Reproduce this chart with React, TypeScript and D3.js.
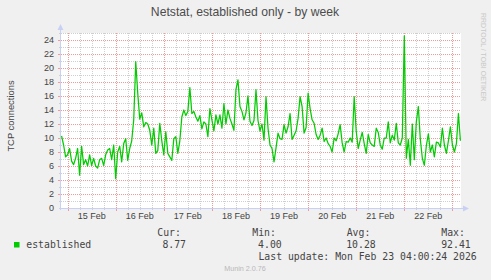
import React from "react";
import * as d3 from "d3";

const TITLE = "Netstat, established only - by week";
const Y_TITLE = "TCP connections";
const SERIES_NAME = "established";
const START = new Date(2026, 1, 14, 21, 0); // first hourly sample

// hourly values, by day
const feb14 = [10.3, 9.0, 7.3];
const feb15 = [7.6, 8.5, 6.7, 6.2, 7.1, 8.5, 4.7, 8.8, 6.2, 6.9, 6.0, 7.6, 6.1, 7.1, 6.0, 5.7, 6.9, 7.1, 6.1, 7.6, 8.3, 8.5, 6.9, 9.0];
const feb16 = [4.2, 8.0, 8.8, 6.6, 9.2, 9.9, 6.8, 8.5, 9.6, 12.6, 20.9, 16.4, 12.7, 13.6, 11.6, 12.2, 12.0, 11.1, 9.0, 11.4, 7.8, 8.2, 12.1, 9.6];
const feb17 = [7.6, 10.9, 7.8, 7.3, 6.8, 9.9, 10.2, 7.8, 9.6, 13.0, 14.0, 13.2, 13.8, 17.2, 13.5, 13.8, 13.0, 12.4, 13.2, 11.3, 12.3, 12.0, 10.2, 14.2];
const feb18 = [12.6, 11.0, 13.3, 12.0, 13.3, 11.4, 14.9, 12.0, 14.0, 12.8, 12.0, 11.1, 16.9, 18.3, 14.5, 13.8, 12.6, 13.6, 16.0, 12.4, 11.8, 12.5, 16.9, 12.5];
const feb19 = [11.0, 12.0, 9.7, 15.9, 11.4, 9.0, 8.5, 6.6, 8.6, 10.7, 9.9, 9.8, 11.9, 10.7, 11.6, 13.5, 9.8, 10.4, 11.0, 12.8, 15.9, 14.5, 10.7, 11.5];
const feb20 = [16.4, 14.2, 12.6, 12.1, 10.5, 9.8, 10.4, 11.4, 9.5, 10.0, 9.2, 8.8, 8.0, 10.0, 9.6, 10.6, 11.9, 9.3, 8.0, 9.5, 9.4, 10.0, 9.4, 15.9];
const feb21 = [11.0, 8.5, 9.7, 10.8, 9.2, 7.8, 10.5, 9.3, 9.0, 8.8, 11.4, 10.8, 9.0, 8.4, 10.0, 10.0, 12.3, 9.3, 10.4, 9.7, 12.1, 9.3, 9.0, 10.0];
const feb22 = [24.6, 7.1, 9.8, 6.1, 12.0, 6.9, 12.3, 14.5, 9.8, 7.1, 6.1, 8.9, 10.6, 8.0, 9.0, 7.3, 9.4, 9.3, 8.7, 11.4, 9.0, 7.8, 9.6, 11.6];
const feb23 = [9.0, 8.0, 9.2, 13.5, 9.6];

const VALUES = [...feb14, ...feb15, ...feb16, ...feb17, ...feb18, ...feb19, ...feb20, ...feb21, ...feb22, ...feb23];

const DAY_LABELS = ["15 Feb", "16 Feb", "17 Feb", "18 Feb", "19 Feb", "20 Feb", "21 Feb", "22 Feb"];
const Y_TICKS = [0, 2, 4, 6, 8, 10, 12, 14, 16, 18, 20, 22, 24];
const STAT_LABELS = ["Cur:", "Min:", "Avg:", "Max:"];
const STAT_VALUES = ["8.77", "4.00", "10.28", "92.41"];
const LAST_UPDATE = "Last update: Mon Feb 23 04:00:24 2026";
const FOOTER = "Munin 2.0.76";
const WATERMARK = "RRDTOOL / TOBI OETIKER";

const W = 491, H = 280;
const PL = 61, PR = 461, PT = 33, PB = 208;

export default function App() {
  const x = d3.scaleTime()
    .domain([new Date(2026, 1, 15), new Date(2026, 1, 23)])
    .range([67.6, 452.4]);
  const y = d3.scaleLinear().domain([0, 25]).range([PB, PT]);

  const data = VALUES.map((v, i) => ({ t: new Date(START.getTime() + i * 3600000), v }));
  const line = d3.line<{ t: Date; v: number }>().x(d => x(d.t)).y(d => y(d.v));

  const minorV: number[] = [];
  const majorV: number[] = [];
  for (let h = -6; h <= 8 * 24 + 6; h += 6) {
    const t = new Date(2026, 1, 15, h);
    const px = Math.round(x(t)) + 0.5;
    if (px <= PL || px >= PR) continue;
    if (h % 24 === 0) majorV.push(px); else minorV.push(px);
  }
  const hLines = d3.range(0, 26);

  const grayGrid = "#cfcfcf";
  const redGrid = "#f29a9a";
  const axisCol = "#c8d0f6";
  const textCol = "#444444";
  const sans = "'Liberation Sans', Arial, sans-serif";
  const mono = "'DejaVu Sans Mono', monospace";

  const statX = [157.3, 252.3, 346.7, 441.3];
  const valEnd = [186, 281.7, 375.7, 470.7];

  return (
    <svg width={W} height={H} style={{ position: "absolute", left: 0, top: 0 }}>
      <rect x={0} y={0} width={W} height={H} fill="#f0f0f0" />
      <rect x={PL} y={PT} width={PR - PL} height={PB - PT} fill="#ffffff" />
      <defs>
        <clipPath id="plotclip">
          <rect x={PL} y={PT - 2} width={PR - PL} height={PB - PT + 2} />
        </clipPath>
      </defs>
      {/* horizontal grid */}
      {hLines.map(v => {
        const py = Math.round(y(v)) + 0.5;
        if (v === 0) return null;
        const major = v % 2 === 0;
        return (
          <g key={"h" + v}>
            <line x1={PL} x2={PR} y1={py} y2={py} stroke={major ? redGrid : grayGrid}
              strokeDasharray="1,1" shapeRendering="crispEdges" />
            <line x1={major ? 58 : 59} x2={PL} y1={py} y2={py} stroke={major ? redGrid : grayGrid}
              shapeRendering="crispEdges" />
          </g>
        );
      })}
      {/* vertical grid */}
      {minorV.map((px, i) => (
        <g key={"mv" + i}>
          <line x1={px} x2={px} y1={PT} y2={PB} stroke={grayGrid} strokeDasharray="1,1" shapeRendering="crispEdges" />
          <line x1={px} x2={px} y1={PB} y2={PB + 2} stroke={grayGrid} shapeRendering="crispEdges" />
        </g>
      ))}
      {majorV.map((px, i) => (
        <g key={"Mv" + i}>
          <line x1={px} x2={px} y1={PT} y2={PB} stroke={redGrid} strokeDasharray="1,1" shapeRendering="crispEdges" />
          <line x1={px} x2={px} y1={PB} y2={PB + 3} stroke={redGrid} shapeRendering="crispEdges" />
        </g>
      ))}
      {/* series */}
      <path d={line(data) || ""} fill="none" stroke="#00cc00" strokeWidth={1.25} strokeLinejoin="round" clipPath="url(#plotclip)" />
      {/* axes */}
      <line x1={PL - 0.5} x2={PL - 0.5} y1={PB + 2} y2={29} stroke={axisCol} shapeRendering="crispEdges" />
      <path d={`M${PL - 3.5},${30} L${PL - 0.5},${24} L${PL + 2.5},${30} Z`} fill={axisCol} />
      <line x1={PL - 2} x2={464} y1={PB + 0.5} y2={PB + 0.5} stroke={axisCol} shapeRendering="crispEdges" />
      <path d={`M${463},${PB - 2.5} L${469},${PB + 0.5} L${463},${PB + 3.5} Z`} fill={axisCol} />
      {/* y tick labels */}
      {Y_TICKS.map(v => (
        <text key={"yl" + v} x={54} y={y(v) + 3.3} textAnchor="end" fontFamily={sans} fontSize={9} fill={textCol}>{v}</text>
      ))}
      {/* x labels */}
      {DAY_LABELS.map((lab, i) => (
        <text key={"xl" + i} x={x(new Date(2026, 1, 15 + i, 12))} y={219} textAnchor="middle"
          fontFamily={sans} fontSize={9} fill={textCol}>{lab}</text>
      ))}
      {/* titles */}
      <text x={245} y={16} textAnchor="middle" fontFamily={sans} fontSize={12.2} fill="#4c4c4c">{TITLE}</text>
      <text transform={`translate(14,116) rotate(-90)`} textAnchor="middle" fontFamily={sans} fontSize={9.4} fill={textCol}>{Y_TITLE}</text>
      <text transform={`translate(481,13) rotate(90)`} textAnchor="start" fontFamily={sans} fontSize={7} fill="#c8c8c8">{WATERMARK}</text>
      {/* legend */}
      <rect x={14} y={242} width={5.5} height={5.5} fill="#00cc00" />
      <text x={26.3} y={248} fontFamily={mono} fontSize={9.8} fill={textCol}>{SERIES_NAME}</text>
      {STAT_LABELS.map((s, i) => (
        <text key={"sl" + i} x={statX[i]} y={236} fontFamily={mono} fontSize={9.8} fill={textCol}>{s}</text>
      ))}
      {STAT_VALUES.map((s, i) => (
        <text key={"sv" + i} x={valEnd[i]} y={248} textAnchor="end" fontFamily={mono} fontSize={9.8} fill={textCol}>{s}</text>
      ))}
      <text x={476.7} y={260} textAnchor="end" fontFamily={mono} fontSize={9.8} fill={textCol}>{LAST_UPDATE}</text>
      <text x={245} y={271} textAnchor="middle" fontFamily={sans} fontSize={7.2} fill="#b8b8b8">{FOOTER}</text>
    </svg>
  );
}
